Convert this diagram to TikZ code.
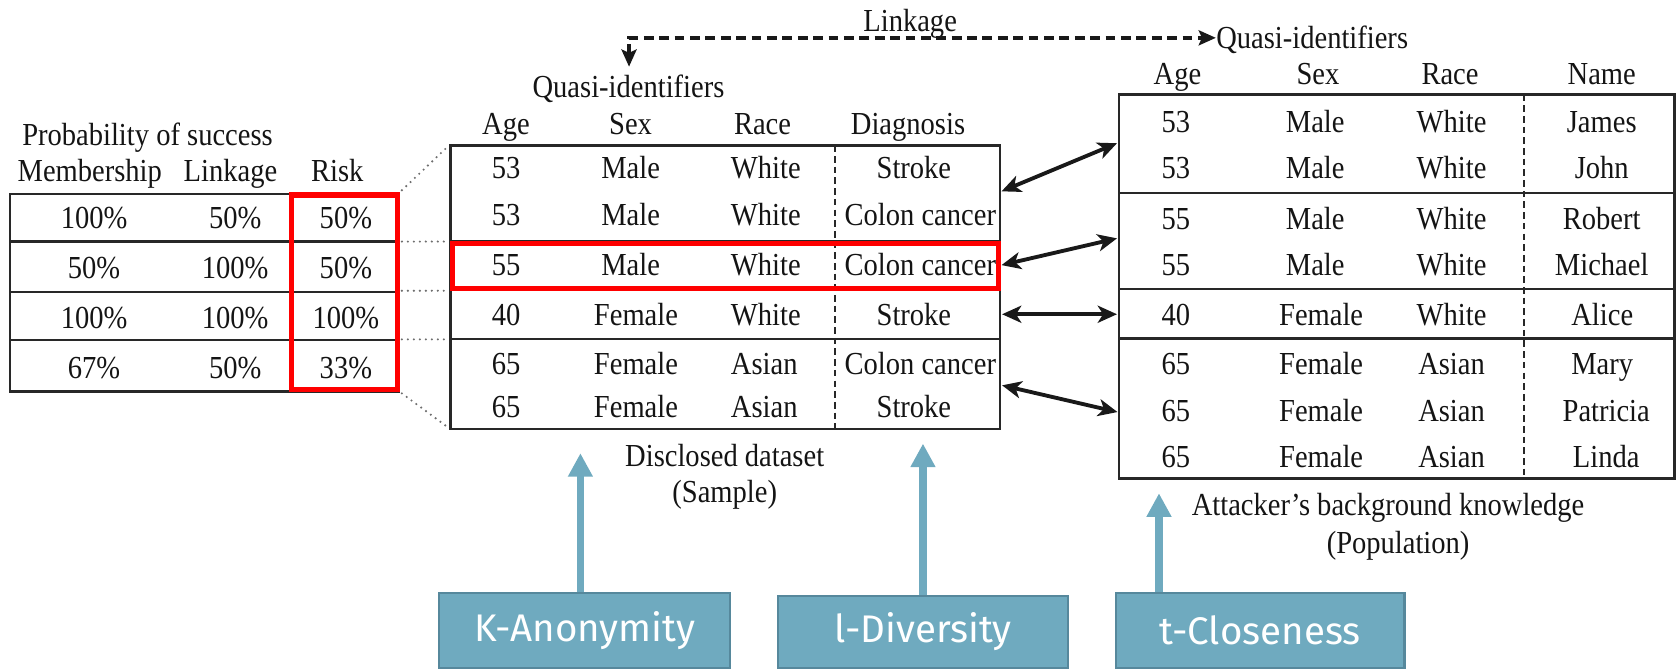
\documentclass[tikz,border=0pt]{standalone}
\usepackage{fontspec}
\setmainfont{Liberation Serif}[FakeStretch=0.89]
\newfontfamily\firafont{Fira Sans}
\usetikzlibrary{arrows.meta}
\definecolor{boxfill}{RGB}{111,170,191}
\definecolor{boxline}{RGB}{86,136,156}
\definecolor{tline}{RGB}{40,40,40}
\definecolor{hired}{RGB}{255,0,0}
\definecolor{dotgray}{RGB}{110,110,110}
\begin{document}
\begin{tikzpicture}[x=0.5pt,y=-0.5pt,
  txt/.style={font=\fontsize{15}{18}\selectfont, inner sep=0pt, text height=9.9pt, text depth=0pt, text=black!92},
  tbl/.style={draw=tline, line width=1.2pt},
  sepline/.style={draw=tline, line width=1pt, dash pattern=on 3.1pt off 1.9pt},
  redbox/.style={draw=hired, line width=2.5pt},
  dotline/.style={draw=dotgray, line width=1.1pt, line cap=round, dash pattern=on 0pt off 2.8pt},
  linkarrow/.style={draw=black!90, line width=1.8pt, {Stealth[length=9pt,width=8pt,inset=2.5pt]}-{Stealth[length=9pt,width=8pt,inset=2.5pt]}},
  dasharrow/.style={draw=black!90, line width=1.9pt, dash pattern=on 4.6pt off 2.6pt, {Stealth[length=8pt,width=7pt,inset=1.5pt]}-{Stealth[length=8pt,width=7pt,inset=1.5pt]}},
  techbox/.style={draw=boxline, line width=1pt, fill=boxfill, inner sep=0pt, text=white, font=\firafont\fontsize{18}{21}\selectfont},
  uparrow/.style={draw=boxfill, line width=3.5pt, -{Triangle[length=11pt,width=11pt]}},
]
\useasboundingbox (0,0) rectangle (1568,627);

% ---------- left table ----------
\node[txt] (probhead) at (138,126) {Probability of success};
\node[txt] (hmem) at (84,160) {Membership};
\node[txt] (hlink) at (215.6,160) {Linkage};
\node[txt] (hrisk) at (315.6,160) {Risk};
\draw[tbl] (9.4,181.5) rectangle (373,366.5);
\foreach \yy in {226,273,318} \draw[tbl] (9.4,\yy) -- (373,\yy);
\foreach \yy/\ma/\mb/\mc [count=\i] in {204/100\%/50\%/50\%, 251/50\%/100\%/50\%, 297.8/100\%/100\%/100\%, 344.6/67\%/50\%/33\%}{
  \node[txt] (l\i-m) at (88,\yy) {\ma};
  \node[txt] (l\i-l) at (220,\yy) {\mb};
  \node[txt] (l\i-r) at (323.6,\yy) {\mc};
}
\draw[redbox] (272.5,182.5) rectangle (372,364.5);

% dotted links left -> middle
\coordinate (dA1) at (376,178);  \coordinate (dB1) at (418,138);
\coordinate (dA2) at (376,226);  \coordinate (dB2) at (418,226);
\coordinate (dA3) at (376,272);  \coordinate (dB3) at (418,272);
\coordinate (dA4) at (376,317.5);\coordinate (dB4) at (418,317.5);
\coordinate (dA5) at (376,368);  \coordinate (dB5) at (420,400.5);
\foreach \i in {1,...,5} \draw[dotline] (dA\i) -- (dB\i);

% ---------- middle table ----------
\node[txt] (linktxt) at (851.5,20) {Linkage};
\node[txt] (qiM) at (588,81) {Quasi-identifiers};
\node[txt] (mhA) at (473.4,116) {Age};
\node[txt] (mhS) at (589.9,116) {Sex};
\node[txt] (mhR) at (713.4,116) {Race};
\node[txt] (mhD) at (849.5,116) {Diagnosis};
\draw[tbl] (421.6,136) rectangle (935.4,401.5);
\foreach \yy in {226,271.3,317.3} \draw[tbl] (421.6,\yy) -- (935.4,\yy);
\draw[sepline] (781.3,136) -- (781.3,401.5);
\foreach \yy/\a/\s/\sx/\r/\rx/\d/\dx [count=\i] in {
  157.5/53/Male/590/White/716.5/Stroke/855,
  201/53/Male/590/White/716.5/Colon cancer/861,
  248/55/Male/590/White/716.5/Colon cancer/861,
  294.7/40/Female/595/White/716.5/Stroke/855,
  340/65/Female/595/Asian/715/Colon cancer/861,
  380.5/65/Female/595/Asian/715/Stroke/855}{
  \node[txt] (m\i-a) at (473.5,\yy) {\a};
  \node[txt] (m\i-s) at (\sx,\yy) {\s};
  \node[txt] (m\i-r) at (\rx,\yy) {\r};
  \node[txt] (m\i-d) at (\dx,\yy) {\d};
}
\draw[redbox] (423.3,227.6) rectangle (934.2,270);
\node[txt] (disc) at (678,426.7) {Disclosed dataset};
\node[txt] (samp) at (678,460.5) {(Sample)};

% ---------- right table ----------
\node[txt, anchor=west] (qiR) at (1137.5,35.4) {Quasi-identifiers};
\node[txt] (rhA) at (1101.6,68.8) {Age};
\node[txt] (rhS) at (1233,68.8) {Sex};
\node[txt] (rhR) at (1356.6,68.8) {Race};
\node[txt] (rhN) at (1498.5,68.8) {Name};
\draw[tbl] (1047,88.5) rectangle (1566.5,447.7);
\foreach \yy in {180.4,270.5,316.8} \draw[tbl] (1047,\yy) -- (1566.5,\yy);
\draw[sepline] (1425.6,88.5) -- (1425.6,447.7);
\foreach \yy/\a/\s/\sx/\r/\n/\nx [count=\i] in {
  113.6/53/Male/1230.5/White/James/1498.5,
  157.3/53/Male/1230.5/White/John/1498.5,
  204.8/55/Male/1230.5/White/Robert/1498.5,
  248/55/Male/1230.5/White/Michael/1498.5,
  295/40/Female/1236/White/Alice/1499,
  340.8/65/Female/1236/Asian/Mary/1499,
  384.2/65/Female/1236/Asian/Patricia/1502.7,
  427.6/65/Female/1236/Asian/Linda/1502.7}{
  \node[txt] (r\i-a) at (1100,\yy) {\a};
  \node[txt] (r\i-s) at (\sx,\yy) {\s};
  \node[txt] (r\i-r) at (1358,\yy) {\r};
  \node[txt] (r\i-n) at (\nx,\yy) {\n};
}
\node[txt] (attk) at (1298.6,472.7) {Attacker’s background knowledge};
\node[txt] (popu) at (1308,508) {(Population)};

% ---------- linkage dashed arrow ----------
\coordinate (lkDown) at (588.5,62.4);
\draw[dasharrow] (lkDown) |- (qiR.west);

% ---------- double arrows ----------
\coordinate (mL1) at (937,179);   \coordinate (rL1) at (1045,134);
\coordinate (mL2) at (937,248);   \coordinate (rL2) at (1045,223);
\coordinate (mL3) at (937.5,294); \coordinate (rL3) at (1045,294);
\coordinate (mL4) at (937.5,360.5); \coordinate (rL4) at (1045.5,385.5);
\foreach \i in {1,...,4} \draw[linkarrow] (mL\i) -- (rL\i);

% ---------- technique boxes ----------
\node[techbox, minimum width=136pt, minimum height=35pt] (kbox) at (547,590) {K-Anonymity};
\node[techbox, minimum width=135.5pt, minimum height=33.7pt] (lbox) at (863.5,591.3) {l-Diversity};
\node[techbox, minimum width=135pt, minimum height=35pt] (tbox) at (1179,590) {t-Closeness};
\coordinate (kTip) at (543,424);
\coordinate (lTip) at (863.5,415);
\coordinate (tTip) at (1084.3,461.5);
\draw[uparrow] (kbox.north -| kTip) -- (kTip);
\draw[uparrow] (lbox.north -| lTip) -- (lTip);
\draw[uparrow] (tbox.north -| tTip) -- (tTip);
\end{tikzpicture}
\end{document}
